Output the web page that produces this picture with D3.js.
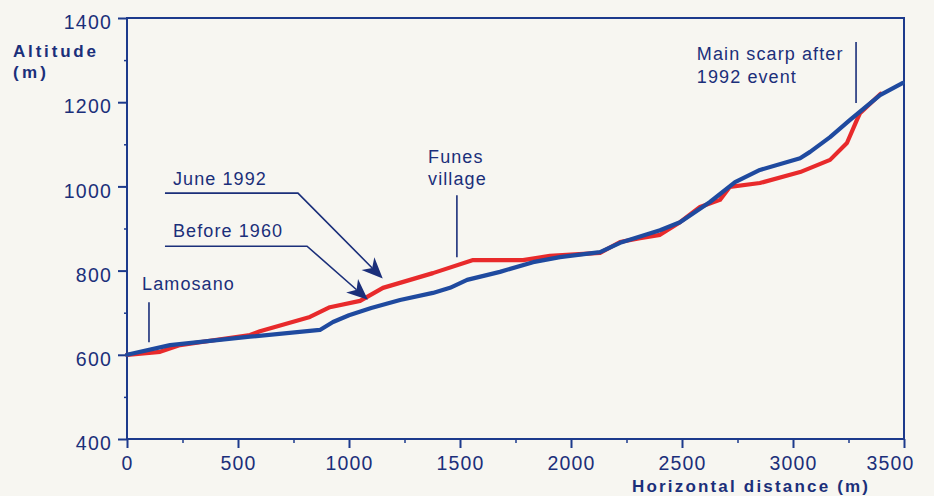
<!DOCTYPE html>
<html lang="en">
<head>
  <meta charset="UTF-8" />
  <title>Funes landslide profile</title>
  <script src="https://d3js.org/d3.v7.min.js"></script>
  <style>
    body { margin: 0; background: #f7f6f1; }
    svg { display: block; font-family: "Liberation Sans", Arial, sans-serif; }
    .profile { fill: none; stroke-width: 4.2px; stroke-linejoin: round; stroke-linecap: round; }
  </style>
</head>
<body>
<svg id="chart" width="934" height="496"></svg>
<script>
// Before 1960 profile
const distBefore = [0, 194, 554, 869, 928, 1000, 1100, 1230, 1378, 1455, 1532, 1680, 1829, 1950,
  2131, 2221, 2401, 2491, 2626, 2739, 2851, 3032, 3077, 3167, 3257, 3392, 3495];
const altBefore = [600, 623, 643, 659, 678, 694, 711, 730, 747, 759, 778, 797, 820, 832,
  844, 866, 896, 915, 963, 1010, 1039, 1067, 1082, 1117, 1158, 1217, 1246];

// June 1992 profile
const distJune = [0, 149, 239, 554, 599, 824, 914, 1050, 1153, 1378, 1559, 1784, 1905, 2131,
  2221, 2311, 2401, 2491, 2581, 2671, 2716, 2851, 3032, 3167, 3243, 3288, 3302, 3395];
const altJune = [600, 607, 623, 647, 656, 690, 713, 728, 759, 794, 825, 825, 835, 842,
  868, 877, 885, 915, 951, 968, 999, 1008, 1034, 1063, 1103, 1158, 1174, 1220];

const xTicks = [0, 500, 1000, 1500, 2000, 2500, 3000, 3500];
const yTicks = [400, 600, 800, 1000, 1200, 1400];

const svg = d3.select("#chart");
const margin = { top: 18, right: 30, bottom: 57, left: 127 },
      width = +svg.attr("width") - margin.left - margin.right,
      height = +svg.attr("height") - margin.top - margin.bottom;

const navy = "#1b2f7a", frame = "#1d3a8c";

const x = d3.scaleLinear().domain([0, 3500]).range([0, width]);
const y = d3.scaleLinear().domain([400, 1400]).range([height, 0]);

const g = svg.append("g").attr("transform", `translate(${margin.left},${margin.top})`);

// frame
g.append("rect")
  .attr("width", width).attr("height", height)
  .attr("fill", "none").attr("stroke", frame).attr("stroke-width", 2);

// minor ticks
g.append("g").attr("transform", `translate(0,${height})`)
  .call(d3.axisBottom(x).tickValues(d3.range(250, 3500, 500)).tickSize(4).tickFormat(""))
  .call(a => a.select(".domain").remove())
  .selectAll("line").attr("stroke", frame).attr("stroke-width", 1.5);
g.append("g")
  .call(d3.axisLeft(y).tickValues(d3.range(500, 1400, 200)).tickSize(3).tickFormat(""))
  .call(a => a.select(".domain").remove())
  .selectAll("line").attr("stroke", frame).attr("stroke-width", 1.5);

// major ticks
const xAxis = g.append("g").attr("transform", `translate(0,${height})`)
  .call(d3.axisBottom(x).tickValues(xTicks).tickSize(9).tickPadding(8).tickFormat(d3.format("d")))
  .call(a => a.select(".domain").remove());
xAxis.selectAll(".tick text").filter(d => d === 3500).attr("dx", -14);

const yAxis = g.append("g")
  .call(d3.axisLeft(y).tickValues(yTicks).tickSize(9).tickPadding(6).tickFormat(d3.format("d")))
  .call(a => a.select(".domain").remove());
yAxis.selectAll(".tick text").attr("dy", "0.55em");

svg.selectAll(".tick line").filter(function () { return this.getAttribute("stroke-width") === null; })
  .attr("stroke", frame).attr("stroke-width", 2);
svg.selectAll(".tick text")
  .attr("font-family", null)
  .attr("fill", navy)
  .style("font-size", "19.5px")
  .style("letter-spacing", "1.2px");

// profiles
const line = d3.line().x(d => x(d[0])).y(d => y(d[1]));
g.append("path").attr("class", "profile")
  .datum(d3.zip(distJune, altJune))
  .attr("stroke", "#e82a2b").attr("d", line);
g.append("path").attr("class", "profile")
  .datum(d3.zip(distBefore, altBefore))
  .attr("stroke", "#1f4a9f").attr("d", line);

// axis titles
const title = (tx, ty, len, txt) => svg.append("text")
  .attr("x", tx).attr("y", ty).attr("fill", navy)
  .style("font-size", "17px").style("font-weight", "bold")
  .attr("textLength", len).attr("lengthAdjust", "spacing").text(txt);
title(13, 57, 83, "Altitude");
title(13, 78, 33, "(m)");
title(632, 492, 236, "Horizontal  distance  (m)");

// annotations
const ann = g.append("g");
const label = (xv, yv, txt) => ann.append("text")
  .attr("x", x(xv)).attr("y", y(yv)).attr("fill", navy)
  .style("font-size", "18px").style("letter-spacing", "1.1px").text(txt);
const tick = (xv, y0, y1) => ann.append("line")
  .attr("x1", x(xv)).attr("x2", x(xv)).attr("y1", y(y0)).attr("y2", y(y1))
  .attr("stroke", navy).attr("stroke-width", 1.6);

label(68, 754, "Lamosano");
tick(99, 725, 630);

label(1356, 1056, "Funes");
label(1356, 1003, "village");
tick(1486, 979, 832);

label(2567, 1300, "Main scarp after");
label(2567, 1245, "1992 event");
tick(3284, 1343, 1198);

// leader arrows with filled heads
const leader = (txt, ty, pts) => {
  label(207, ty, txt);
  const px = pts.map(p => [x(p[0]), y(p[1])]);
  const [a, b] = px.slice(-2);
  const ang = Math.atan2(b[1] - a[1], b[0] - a[0]);
  const L = 21, W = 9;
  const base = [b[0] - L * Math.cos(ang), b[1] - L * Math.sin(ang)];
  const notch = [b[0] - (L - 6) * Math.cos(ang), b[1] - (L - 6) * Math.sin(ang)];
  ann.append("path")
    .attr("d", d3.line()(px.slice(0, -1).concat([notch])))
    .attr("fill", "none").attr("stroke", navy).attr("stroke-width", 1.6);
  ann.append("path")
    .attr("d", d3.line()([
      b,
      [base[0] + W * Math.sin(ang), base[1] - W * Math.cos(ang)],
      notch,
      [base[0] - W * Math.sin(ang), base[1] + W * Math.cos(ang)]
    ]) + "Z")
    .attr("fill", navy);
};
leader("June 1992", 1003, [[171, 984], [770, 984], [1152, 781]]);
leader("Before 1960", 880, [[171, 858], [811, 858], [1085, 731]]);
</script>
</body>
</html>
